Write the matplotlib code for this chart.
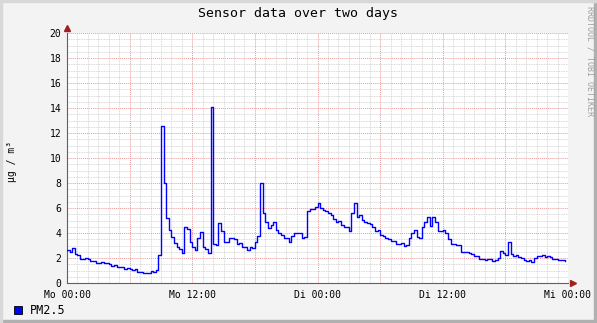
import numpy as np
import matplotlib
matplotlib.use('Agg')
import matplotlib.pyplot as plt
from matplotlib.patches import Rectangle

# PM2.5 readings, one value every 15 minutes starting Mo 00:00
pm25 = [2.64, 2.5, 2.8, 2.3, 2.24, 1.95, 1.9, 2.0, 1.95, 1.8,
        1.76, 1.6, 1.57, 1.65, 1.57, 1.6, 1.5, 1.36, 1.42, 1.3,
        1.25, 1.3, 1.1, 1.2, 1.1, 1.05, 1.15, 0.9, 0.85, 0.83,
        0.83, 0.8, 1.0, 0.85, 1.04, 2.24, 12.6, 8.0, 5.2, 4.24,
        3.7, 3.2, 2.9, 2.75, 2.37, 4.5, 4.3, 3.3, 2.9, 2.64,
        3.6, 4.1, 2.9, 2.7, 2.4, 14.1, 3.1, 3.04, 4.8, 4.2,
        3.3, 3.3, 3.57, 3.6, 3.5, 3.1, 3.2, 2.9, 2.9, 2.64,
        2.9, 2.77, 3.3, 3.8, 7.98, 5.6, 4.85, 4.37, 4.64, 4.9,
        4.24, 3.97, 3.84, 3.57, 3.6, 3.3, 3.8, 4.0, 4.0, 4.0,
        3.6, 3.7, 5.8, 5.9, 5.9, 6.1, 6.4, 6.0, 5.84, 5.8,
        5.6, 5.44, 5.1, 4.9, 5.0, 4.64, 4.5, 4.5, 4.2, 5.6,
        6.4, 5.3, 5.44, 5.04, 4.9, 4.77, 4.7, 4.5, 4.2, 4.24,
        3.84, 3.8, 3.6, 3.5, 3.4, 3.4, 3.1, 3.1, 3.24, 3.0,
        3.04, 3.6, 4.0, 4.24, 3.7, 3.57, 4.5, 4.9, 5.3, 4.6,
        5.3, 4.9, 4.2, 4.2, 4.24, 4.0, 3.5, 3.1, 3.1, 3.04,
        3.04, 2.5, 2.45, 2.45, 2.37, 2.3, 2.19, 2.15, 1.92, 1.9,
        1.84, 1.92, 1.92, 1.8, 1.84, 1.97, 2.6, 2.37, 2.24, 3.3,
        2.3, 2.2, 2.24, 2.1, 1.97, 1.84, 1.8, 1.84, 1.7, 2.0,
        2.19, 2.2, 2.24, 2.05, 2.15, 2.1, 1.95, 1.89, 1.84, 1.84,
        1.84, 1.75]
step_hours = 0.25
hours = np.arange(len(pm25)) * step_hours

major_hours = [0, 6, 12, 18, 24, 30, 36, 42, 48]
major_labels = ['Mo 00:00', '', 'Mo 12:00', '', 'Di 00:00', '', 'Di 12:00', '', 'Mi 00:00']
y_ticks = [0, 2, 4, 6, 8, 10, 12, 14, 16, 18, 20]

mono = 'DejaVu Sans Mono'

fig = plt.figure(figsize=(5.97, 3.23), dpi=100, facecolor='#f3f3f3')
# rrdtool style shaded frame
fig.patches.append(Rectangle((0, 0), 1, 3/323, transform=fig.transFigure, color='#b0b0b0', zorder=0))
fig.patches.append(Rectangle((1 - 3/597, 0), 3/597, 1, transform=fig.transFigure, color='#b0b0b0', zorder=0))
fig.patches.append(Rectangle((0, 1 - 2/323), 1, 2/323, transform=fig.transFigure, color='#d8d8d8', zorder=0))
fig.patches.append(Rectangle((0, 0), 2/597, 1, transform=fig.transFigure, color='#d8d8d8', zorder=0))

ax = fig.add_axes([67/597, 40/323, 501/597, 250/323])
ax.set_facecolor('white')

ax.step(hours, pm25, where='post', color='#0000ff', linewidth=1.0, zorder=3)

ax.set_xlim(0, 48)
ax.set_ylim(0, 20)
ax.set_xticks(major_hours)
ax.set_xticklabels(major_labels, fontfamily=mono, fontsize=7)
ax.set_xticks(np.arange(0, 49, 1), minor=True)
ax.set_yticks(y_ticks)
ax.set_yticklabels([str(v) for v in y_ticks], fontfamily=mono, fontsize=7)
ax.set_yticks(np.arange(0, 20.01, 0.5), minor=True)

ax.grid(which='minor', color='#cccccc', linestyle=(0, (1, 1)), linewidth=0.6)
ax.grid(which='major', color='#eb9a9a', linestyle=(0, (1, 1)), linewidth=0.7)
ax.set_axisbelow(True)
ax.tick_params(which='both', length=0, pad=4, colors='black')
ax.tick_params(axis='x', pad=5)

for s in ['top', 'right']:
    ax.spines[s].set_visible(False)
for s in ['left', 'bottom']:
    ax.spines[s].set_color('#606060')
    ax.spines[s].set_linewidth(0.8)

# arrow heads on the axes
ax.plot([0], [1.02], marker='^', color='#a02020', markersize=4, transform=ax.transAxes, clip_on=False)
ax.plot([1.01], [0], marker='>', color='#a02020', markersize=4, transform=ax.transAxes, clip_on=False)

fig.text(0.5, 1 - 13/323, 'Sensor data over two days', ha='center', va='center',
         fontfamily=mono, fontsize=9.5)
fig.text(12/597, 0.5, 'µg / m³', rotation=90, ha='center', va='center',
         fontfamily=mono, fontsize=7)
fig.text(590/597, 1 - 61/323, 'RRDTOOL / TOBI OETIKER', rotation=270, ha='center', va='center',
         fontfamily=mono, fontsize=6, color='#a0a0a0')

# legend
fig.patches.append(Rectangle((14/597, 1 - 314/323), 8/597, 8/323, transform=fig.transFigure,
                             facecolor='#0000ff', edgecolor='black', linewidth=0.6))
fig.text(30/597, 1 - 310/323, 'PM2.5', ha='left', va='center', fontfamily=mono, fontsize=8.5)

fig.savefig('out.png', dpi=100, facecolor=fig.get_facecolor())
